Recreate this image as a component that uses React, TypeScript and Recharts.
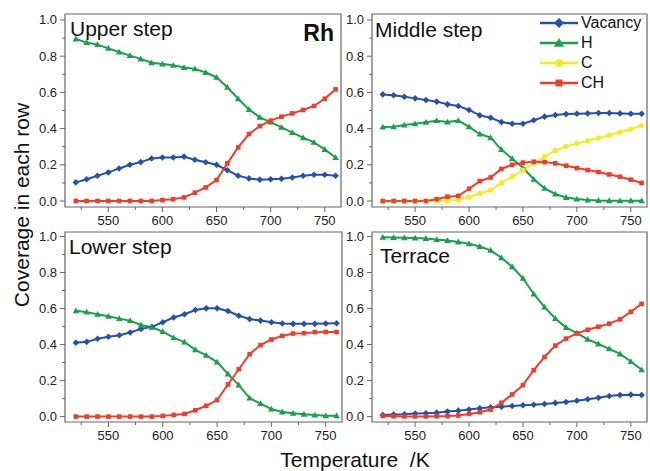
import { LineChart, Line, XAxis, YAxis, ReferenceArea, Legend } from 'recharts';

// Temperatures (K) sampled every 10 K
const TEMPS = [520, 530, 540, 550, 560, 570, 580, 590, 600, 610, 620, 630, 640, 650, 660, 670, 680, 690, 700, 710, 720, 730, 740, 750, 760];

// Upper step
const UPPER_VACANCY = [0.103, 0.12, 0.14, 0.158, 0.18, 0.2, 0.215, 0.235, 0.24, 0.24, 0.245, 0.228, 0.214, 0.2, 0.17, 0.14, 0.125, 0.118, 0.12, 0.123, 0.13, 0.14, 0.145, 0.145, 0.14];
const UPPER_H = [0.895, 0.875, 0.864, 0.843, 0.823, 0.803, 0.785, 0.764, 0.757, 0.75, 0.737, 0.73, 0.71, 0.683, 0.628, 0.565, 0.506, 0.462, 0.436, 0.407, 0.378, 0.35, 0.324, 0.285, 0.24];
const UPPER_CH = [0, 0, 0, 0, 0, 0, 0, 0, 0.005, 0.01, 0.02, 0.046, 0.075, 0.116, 0.208, 0.296, 0.37, 0.414, 0.444, 0.466, 0.484, 0.503, 0.525, 0.565, 0.617];

// Middle step
const MIDDLE_VACANCY = [0.589, 0.584, 0.576, 0.567, 0.558, 0.549, 0.534, 0.525, 0.503, 0.473, 0.46, 0.436, 0.427, 0.427, 0.446, 0.466, 0.475, 0.48, 0.482, 0.484, 0.486, 0.486, 0.484, 0.482, 0.482];
const MIDDLE_H = [0.409, 0.41, 0.42, 0.427, 0.435, 0.444, 0.436, 0.444, 0.41, 0.37, 0.35, 0.285, 0.234, 0.184, 0.12, 0.07, 0.039, 0.02, 0.011, 0.006, 0.003, 0.002, 0.001, 0.001, 0.001];
const MIDDLE_C = [0, 0, 0, 0, 0, 0, 0.002, 0.006, 0.022, 0.042, 0.06, 0.1, 0.135, 0.17, 0.208, 0.245, 0.278, 0.302, 0.318, 0.333, 0.348, 0.363, 0.38, 0.396, 0.418];
const MIDDLE_CH = [0, 0, 0, 0, 0, 0.01, 0.024, 0.028, 0.068, 0.11, 0.13, 0.177, 0.2, 0.212, 0.217, 0.215, 0.208, 0.195, 0.182, 0.171, 0.16, 0.147, 0.134, 0.118, 0.1];

// Lower step
const LOWER_VACANCY = [0.41, 0.415, 0.432, 0.443, 0.452, 0.467, 0.487, 0.498, 0.524, 0.55, 0.568, 0.592, 0.601, 0.601, 0.586, 0.56, 0.542, 0.533, 0.524, 0.517, 0.515, 0.515, 0.515, 0.517, 0.518];
const LOWER_H = [0.588, 0.58, 0.568, 0.557, 0.544, 0.533, 0.509, 0.496, 0.472, 0.438, 0.414, 0.371, 0.34, 0.303, 0.237, 0.175, 0.103, 0.072, 0.042, 0.026, 0.018, 0.013, 0.009, 0.005, 0.005];
const LOWER_CH = [0, 0, 0, 0, 0, 0, 0, 0, 0.004, 0.009, 0.015, 0.035, 0.06, 0.092, 0.178, 0.263, 0.347, 0.397, 0.428, 0.448, 0.461, 0.463, 0.469, 0.47, 0.47];

// Terrace
const TERRACE_VACANCY = [0.009, 0.011, 0.013, 0.017, 0.018, 0.022, 0.028, 0.033, 0.039, 0.046, 0.052, 0.055, 0.059, 0.063, 0.066, 0.07, 0.076, 0.081, 0.088, 0.096, 0.105, 0.114, 0.12, 0.122, 0.12];
const TERRACE_H = [0.996, 0.994, 0.993, 0.991, 0.989, 0.983, 0.978, 0.97, 0.96, 0.945, 0.923, 0.882, 0.832, 0.768, 0.681, 0.608, 0.545, 0.494, 0.464, 0.429, 0.403, 0.376, 0.348, 0.306, 0.26];
const TERRACE_CH = [0.004, 0.002, 0.001, 0.001, 0.001, 0.002, 0.003, 0.006, 0.015, 0.024, 0.039, 0.077, 0.123, 0.175, 0.258, 0.331, 0.394, 0.433, 0.462, 0.482, 0.499, 0.516, 0.54, 0.582, 0.626];

const X_TICKS = [525, 550, 575, 600, 625, 650, 675, 700, 725, 750];
const Y_TICKS = [0, 0.1, 0.2, 0.3, 0.4, 0.5, 0.6, 0.7, 0.8, 0.9, 1.0];

const FONT = '"Liberation Sans", Arial, sans-serif';
const AXIS_COLOR = '#666';

const SERIES: Record<string, { color: string; shape: string }> = {
  Vacancy: { color: '#2450b2', shape: 'diamond' },
  H: { color: '#17a14b', shape: 'triangle' },
  C: { color: '#f2ec1c', shape: 'circle' },
  CH: { color: '#f23c2a', shape: 'square' },
};
const SERIES_ORDER = Object.keys(SERIES);

function Marker({ cx, cy, shape, color, s }: any) {
  if (cx == null || cy == null) return null;
  if (shape === 'diamond')
    return <polygon points={`${cx},${cy - s} ${cx + s},${cy} ${cx},${cy + s} ${cx - s},${cy}`} fill={color} />;
  if (shape === 'triangle')
    return <polygon points={`${cx},${cy - s} ${cx + s},${cy + s * 0.75} ${cx - s},${cy + s * 0.75}`} fill={color} />;
  if (shape === 'circle') return <circle cx={cx} cy={cy} r={s * 0.8} fill={color} />;
  return <rect x={cx - s * 0.7} y={cy - s * 0.7} width={s * 1.4} height={s * 1.4} fill={color} />;
}

const XTick = (props: any) => {
  const { x, y, payload } = props;
  const major = payload.value % 50 === 0;
  return (
    <g>
      <line x1={x} x2={x} y1={y} y2={y + (major ? 5 : 3)} stroke={AXIS_COLOR} />
      {major && (
        <text x={x} y={y + 18} textAnchor="middle" fontSize={13} fontFamily={FONT} fill="#222">
          {payload.value}
        </text>
      )}
    </g>
  );
};

const YTick = (props: any) => {
  const { x, y, payload } = props;
  const major = Math.round(payload.value * 10) % 2 === 0;
  return (
    <g>
      <line x1={x} x2={x - (major ? 5 : 3)} y1={y} y2={y} stroke={AXIS_COLOR} />
      {major && (
        <text x={x - 8} y={y + 4.5} textAnchor="end" fontSize={13} fontFamily={FONT} fill="#222">
          {payload.value.toFixed(1)}
        </text>
      )}
    </g>
  );
};

const renderLegend = (props: any) => {
  const items = [...props.payload].sort(
    (a: any, b: any) => SERIES_ORDER.indexOf(a.value) - SERIES_ORDER.indexOf(b.value)
  );
  return (
    <div style={{ fontFamily: FONT, fontSize: 16, color: '#111' }}>
      {items.map((item: any) => (
        <div key={item.value} style={{ display: 'flex', alignItems: 'center', height: 20 }}>
          <svg width={40} height={14} style={{ display: 'block' }}>
            <line x1={1} x2={39} y1={7} y2={7} stroke={item.color} strokeWidth={2.5} />
            <Marker cx={20} cy={7} shape={SERIES[item.value].shape} color={item.color} s={5} />
          </svg>
          <span style={{ marginLeft: 2 }}>{item.value}</span>
        </div>
      ))}
    </div>
  );
};

const X_DOMAIN = [510, 765];

function Panel({ box, yDomain, series, legend }: any) {
  const [left, top, right, bottom] = box;
  const data = TEMPS.map((t, i) => {
    const row: any = { t };
    Object.keys(series).forEach((k) => (row[k] = series[k][i]));
    return row;
  });
  return (
    <div style={{ position: 'absolute', left: 0, top: 0 }}>
      <LineChart
        width={650}
        height={471}
        data={data}
        margin={{ top, left: left - 40, right: 650 - right, bottom: 471 - bottom - 25 }}
      >
        <XAxis
          dataKey="t"
          type="number"
          domain={X_DOMAIN}
          ticks={X_TICKS}
          interval={0}
          height={25}
          axisLine={false}
          tickLine={false}
          tickSize={0}
          tickMargin={0}
          tick={<XTick />}
        />
        <YAxis
          type="number"
          domain={yDomain}
          ticks={Y_TICKS}
          interval={0}
          width={40}
          axisLine={false}
          tickLine={false}
          tickSize={0}
          tickMargin={0}
          tick={<YTick />}
        />
        <ReferenceArea x1={X_DOMAIN[0]} x2={X_DOMAIN[1]} y1={yDomain[0]} y2={yDomain[1]} fill="none" stroke={AXIS_COLOR} strokeWidth={1.2} />
        {Object.keys(series).map((k) => (
          <Line
            key={k}
            dataKey={k}
            name={k}
            type="linear"
            stroke={SERIES[k].color}
            strokeWidth={2}
            isAnimationActive={false}
            dot={(p: any) => <Marker key={p.index} cx={p.cx} cy={p.cy} shape={SERIES[k].shape} color={SERIES[k].color} s={3.3} />}
          />
        ))}
        {legend && (
          <Legend
            layout="vertical"
            align="center"
            verticalAlign="middle"
            content={renderLegend}
            wrapperStyle={{ left: 539, top: 13, width: 112 }}
          />
        )}
      </LineChart>
    </div>
  );
}

export default function App() {
  const UPPER_Y = [-0.033, 1.033];
  const LOWER_Y = [-0.03, 1.025];
  return (
    <div style={{ position: 'absolute', left: 0, top: 0, width: 650, height: 471, background: '#fff' }}>
      <Panel box={[65, 14, 341, 207]} yDomain={UPPER_Y} series={{ Vacancy: UPPER_VACANCY, H: UPPER_H, CH: UPPER_CH }} />
      <Panel
        box={[372, 14, 647, 207]}
        yDomain={UPPER_Y}
        series={{ Vacancy: MIDDLE_VACANCY, H: MIDDLE_H, C: MIDDLE_C, CH: MIDDLE_CH }}
        legend
      />
      <Panel box={[65, 232, 342, 422]} yDomain={LOWER_Y} series={{ Vacancy: LOWER_VACANCY, H: LOWER_H, CH: LOWER_CH }} />
      <Panel box={[372, 232, 647, 422]} yDomain={LOWER_Y} series={{ Vacancy: TERRACE_VACANCY, H: TERRACE_H, CH: TERRACE_CH }} />
      <svg width={650} height={471} style={{ position: 'absolute', left: 0, top: 0, pointerEvents: 'none' }}>
        <g fontFamily={FONT} fill="#111">
          <text x={70} y={36} fontSize={21}>Upper step</text>
          <text x={334} y={41} fontSize={23} fontWeight="bold" textAnchor="end">Rh</text>
          <text x={375} y={37} fontSize={21}>Middle step</text>
          <text x={69} y={254} fontSize={21}>Lower step</text>
          <text x={380} y={263} fontSize={21}>Terrace</text>
          <text x={29} y={205} fontSize={21} textAnchor="middle" transform="rotate(-90 29 205)">Coverage in each row</text>
          <text x={355} y={467} fontSize={21} textAnchor="middle" xmlSpace="preserve">Temperature  /K</text>
        </g>
      </svg>
    </div>
  );
}
